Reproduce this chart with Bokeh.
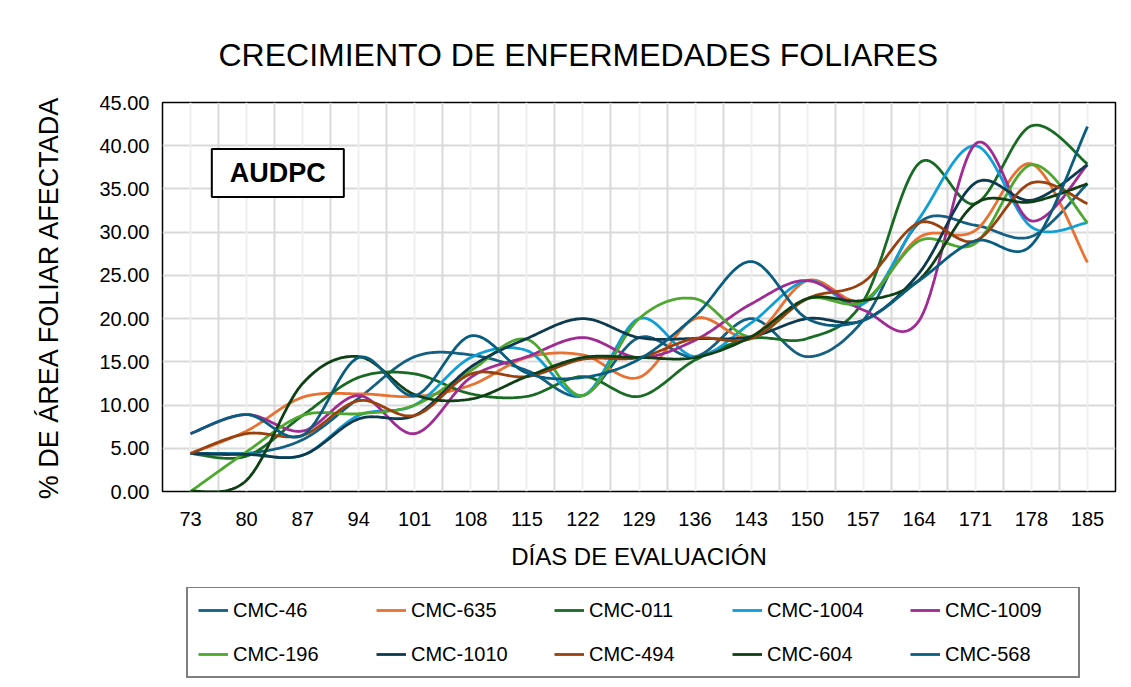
import numpy as np
from bokeh.plotting import figure
from bokeh.layouts import column
from bokeh.models import FixedTicker, NumeralTickFormatter, Grid, Legend, LegendItem, Label
from bokeh.embed import file_html
from bokeh.resources import INLINE

days = [73, 80, 87, 94, 101, 108, 115, 122, 129, 136, 143, 150, 157, 164, 171, 178, 185]
y_ticks = [0, 5, 10, 15, 20, 25, 30, 35, 40, 45]

cmc_46 = [4.4, 4.4, 6.0, 10.8, 15.6, 15.8, 14.0, 11.1, 17.8, 15.6, 20.0, 15.6, 19.8, 31.1, 30.8, 29.5, 35.6]
cmc_635 = [4.4, 7.0, 10.9, 11.3, 11.0, 12.3, 15.5, 15.8, 13.2, 20.0, 17.9, 24.4, 22.1, 29.4, 30.2, 37.9, 26.5]
cmc_011 = [4.4, 4.1, 8.8, 13.2, 13.6, 11.3, 11.0, 13.3, 11.0, 15.2, 17.7, 17.7, 22.0, 38.0, 33.3, 42.3, 37.9]
cmc_1004 = [4.4, 4.4, 4.2, 8.8, 10.0, 15.5, 16.3, 11.1, 20.0, 15.6, 19.5, 24.4, 21.7, 31.6, 40.0, 30.6, 31.1]
cmc_1009 = [6.7, 8.9, 7.0, 11.1, 6.7, 13.2, 15.6, 17.8, 15.5, 17.5, 21.7, 24.4, 21.0, 19.8, 40.2, 31.3, 37.8]
cmc_196 = [0.0, 4.6, 8.8, 9.0, 10.0, 14.0, 17.6, 11.1, 20.0, 22.3, 17.9, 22.3, 22.0, 29.0, 28.7, 37.8, 31.1]
cmc_1010 = [4.4, 4.3, 4.2, 8.4, 8.8, 14.4, 17.7, 20.0, 17.8, 17.7, 17.9, 20.0, 19.8, 25.3, 35.7, 33.7, 37.8]
cmc_494 = [4.4, 6.7, 6.5, 10.5, 8.8, 13.6, 13.3, 15.3, 15.5, 17.7, 17.7, 22.3, 24.2, 31.1, 29.0, 35.7, 33.3]
cmc_604 = [0.0, 1.3, 12.5, 15.6, 11.2, 10.7, 13.3, 15.5, 15.5, 15.5, 17.9, 22.3, 22.1, 24.5, 33.3, 33.5, 35.6]
cmc_568 = [6.7, 8.9, 6.5, 15.5, 11.1, 18.0, 13.7, 13.2, 15.3, 20.3, 26.6, 20.0, 19.8, 24.4, 29.0, 28.5, 42.2]

names = ["CMC-46", "CMC-635", "CMC-011", "CMC-1004", "CMC-1009",
         "CMC-196", "CMC-1010", "CMC-494", "CMC-604", "CMC-568"]
series = [cmc_46, cmc_635, cmc_011, cmc_1004, cmc_1009,
          cmc_196, cmc_1010, cmc_494, cmc_604, cmc_568]
colors = ["#156082", "#E97132", "#196B24", "#0F9ED5", "#A02B93",
          "#4EA72E", "#0D3A4E", "#994210", "#0F4015", "#095E80"]

FONT = "Liberation Sans"


def smooth(xs, ys, n=30):
    """Catmull-Rom smoothing like Excel's smoothed line."""
    P = np.column_stack([xs, ys]).astype(float)
    out = []
    m = len(P)
    for i in range(m - 1):
        p0 = P[i - 1] if i > 0 else P[i]
        p1 = P[i]
        p2 = P[i + 1]
        p3 = P[i + 2] if i + 2 < m else P[i + 1]
        t = np.linspace(0, 1, n, endpoint=(i == m - 2))[:, None]
        seg = 0.5 * ((2 * p1) + (-p0 + p2) * t + (2 * p0 - 5 * p1 + 4 * p2 - p3) * t ** 2
                     + (-p0 + 3 * p1 - 3 * p2 + p3) * t ** 3)
        out.append(seg)
    out = np.vstack(out)
    return out[:, 0], out[:, 1]


p = figure(width=1131, height=587, x_range=(69.5, 188.5), y_range=(0, 45),
           output_backend="svg", toolbar_location=None,
           min_border_left=162, min_border_right=16, min_border_top=102, min_border_bottom=96)

p.outline_line_color = "#000000"
p.outline_line_width = 1.5
p.background_fill_color = "white"
p.border_fill_color = "white"

# title
p.title.text = "CRECIMIENTO DE ENFERMEDADES FOLIARES"
p.title.text_font = FONT
p.title.text_font_size = "32px"
p.title.text_font_style = "normal"
p.title.text_color = "#000000"
p.title.align = "left"
p.title.offset = 56
p.title.standoff = 59

# grids
mids = [d + 3.5 for d in days[:-1]]
p.xgrid.ticker = FixedTicker(ticks=mids)
p.xgrid.grid_line_color = "#D9D9D9"
p.xgrid.grid_line_width = 2
minor_grid = Grid(dimension=0, ticker=FixedTicker(ticks=days),
                  grid_line_color="#EFEFEF", grid_line_width=2)
p.add_layout(minor_grid)
p.ygrid.ticker = FixedTicker(ticks=y_ticks)
p.ygrid.grid_line_color = "#D9D9D9"
p.ygrid.grid_line_width = 2

# axes
p.xaxis.ticker = FixedTicker(ticks=days)
p.yaxis.ticker = FixedTicker(ticks=y_ticks)
p.yaxis.formatter = NumeralTickFormatter(format="0.00")
for ax in (p.xaxis[0], p.yaxis[0]):
    ax.axis_line_color = None
    ax.major_tick_line_color = None
    ax.minor_tick_line_color = None
    ax.major_label_text_font = FONT
    ax.major_label_text_font_size = "20px"
    ax.major_label_text_color = "#000000"
    ax.axis_label_text_font = FONT
    ax.axis_label_text_font_style = "normal"
    ax.axis_label_text_color = "#000000"
p.xaxis.axis_label = "DÍAS DE EVALUACIÓN"
p.xaxis.axis_label_text_font_size = "24px"
p.xaxis.major_label_standoff = 14
p.xaxis.axis_label_standoff = 14
p.yaxis.axis_label = "% DE ÁREA FOLIAR AFECTADA"
p.yaxis.axis_label_text_font_size = "27px"
p.yaxis.major_label_standoff = 7
p.yaxis.axis_label_standoff = 32

smoothed = [smooth(days, ys) for ys in series]
for (sx, sy), c in zip(smoothed, colors):
    p.line(sx, sy, line_color=c, line_width=2.8)

audpc = Label(x=83.9, y=36.85, text="AUDPC", text_align="center", text_baseline="middle",
              text_font=FONT, text_font_size="27px", text_font_style="bold",
              text_color="#000000", border_line_color="#000000", border_line_width=2,
              background_fill_color="white", padding=(18, 9))
p.add_layout(audpc)

# legend panel below the chart (same series, drawn outside its visible range)
pl = figure(width=1131, height=100, x_range=(0, 1), y_range=(0, 1),
            x_axis_type=None, y_axis_type=None,
            output_backend="svg", toolbar_location=None,
            min_border_left=0, min_border_right=0, min_border_top=0, min_border_bottom=0)
pl.outline_line_color = None
pl.xgrid.visible = False
pl.ygrid.visible = False
items = []
for name, (sx, sy), c in zip(names, smoothed, colors):
    r = pl.line(sx, sy, line_color=c, line_width=2.8)
    items.append(LegendItem(label=name, renderers=[r]))

legend = Legend(items=items, orientation="horizontal", ncols=5, location=(24, 9),
                label_text_font=FONT, label_text_font_size="20px", label_text_color="#000000",
                glyph_width=30, glyph_height=24, label_height=24, label_width=123,
                label_standoff=5, spacing=20, padding=10, margin=0,
                border_line_color="#000000", border_line_width=2,
                background_fill_color="white", background_fill_alpha=1.0)
pl.add_layout(legend)

layout = column(p, pl, spacing=0)
open("out.html", "w").write(file_html(layout, INLINE))
